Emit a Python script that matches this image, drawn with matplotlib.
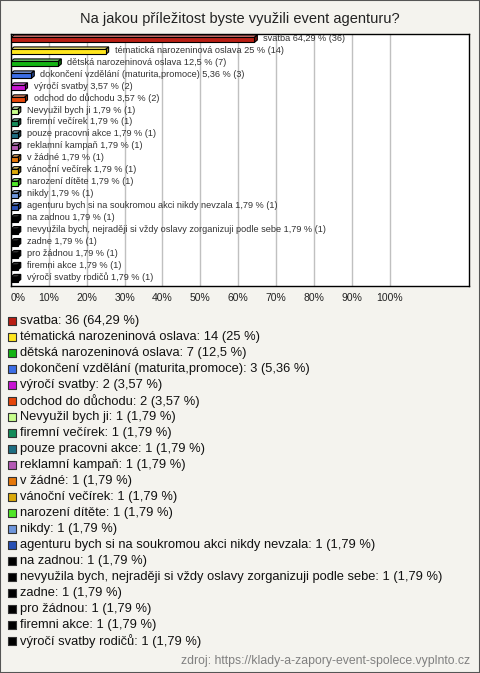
import matplotlib
matplotlib.use("Agg")
import matplotlib.pyplot as plt
from matplotlib.patches import Polygon, Rectangle
import matplotlib.colors as mcolors

plt.rcParams['font.family'] = ['Liberation Sans', 'DejaVu Sans']

title = "Na jakou příležitost byste využili event agenturu?"
categories = [
    "svatba", "tématická narozeninová oslava", "dětská narozeninová oslava",
    "dokončení vzdělání (maturita,promoce)", "výročí svatby", "odchod do důchodu",
    "Nevyužil bych ji", "firemní večírek", "pouze pracovni akce", "reklamní kampaň",
    "v žádné", "vánoční večírek", "narození dítěte", "nikdy",
    "agenturu bych si na soukromou akci nikdy nevzala", "na zadnou",
    "nevyužila bych, nejraději si vždy oslavy zorganizuji podle sebe", "zadne",
    "pro žádnou", "firemni akce", "výročí svatby rodičů",
]
counts = [36, 14, 7, 3, 2, 2, 1, 1, 1, 1, 1, 1, 1, 1, 1, 1, 1, 1, 1, 1, 1]
percents = [64.29, 25, 12.5, 5.36, 3.57, 3.57, 1.79, 1.79, 1.79, 1.79, 1.79,
            1.79, 1.79, 1.79, 1.79, 1.79, 1.79, 1.79, 1.79, 1.79, 1.79]
colors = ["#b91e14", "#ffe61e", "#14b414", "#3c6ee6", "#c814d2", "#e6460a",
          "#c8ff8c", "#148c5a", "#1e6e82", "#b45ab4", "#e6780a", "#dcaa0a",
          "#50e628", "#6e96dc", "#2850b4", "#000000", "#000000", "#000000",
          "#000000", "#000000", "#000000"]
xticks = [0, 10, 20, 30, 40, 50, 60, 70, 80, 90, 100]
xtick_labels = ["0%", "10%", "20%", "30%", "40%", "50%", "60%", "70%", "80%", "90%", "100%"]
source = "zdroj: https://klady-a-zapory-event-spolece.vyplnto.cz"

W, H = 480, 673
BG = "#f4f3ee"

def fmt(v):
    s = ("%.2f" % v).rstrip("0").rstrip(".")
    return s.replace(".", ",")

fig = plt.figure(figsize=(W / 100, H / 100), dpi=100, facecolor=BG)
fig.patches.append(Rectangle((0, 0), 1, 1, transform=fig.transFigure, fill=False,
                             edgecolor="#555555", linewidth=1.5))
fig.text(240 / W, 1 - 19 / H, title, ha="center", va="center", fontsize=10.5, color="#222222")

# main axes
x0, x1, yt, yb = 11, 469, 34, 286
ax = fig.add_axes([x0 / W, 1 - yb / H, (x1 - x0) / W, (yb - yt) / H])
ax.set_facecolor("white")
n = len(categories)
ax.set_xlim(0, 121)
ax.set_ylim(n - 1 + 0.55, -0.5)
px_per_x = (x1 - x0) / 121
px_per_y = (yb - yt) / (n + 0.05)
dx = 3.0 / px_per_x
dy = 2.5 / px_per_y
bh = 5.0 / px_per_y

for xv in xticks:
    ax.axvline(xv, color="#c0c0c0", linewidth=1, zorder=0)

ypos = list(range(n))
ax.barh(ypos, percents, height=bh, color=colors, edgecolor="black", linewidth=0.8, zorder=3)
for i, (p, c) in enumerate(zip(percents, colors)):
    top = i - bh / 2
    bot = i + bh / 2
    rgb = mcolors.to_rgb(c)
    light = tuple(min(1, v * 0.6 + 0.4) for v in rgb) if c != "#000000" else (0.2, 0.2, 0.2)
    dark = tuple(v * 0.6 for v in rgb)
    ax.add_patch(Polygon([(0, top), (dx, top - dy), (p + dx, top - dy), (p, top)],
                         closed=True, facecolor=light, edgecolor="black", linewidth=0.8, zorder=2.9))
    ax.add_patch(Polygon([(p, top), (p + dx, top - dy), (p + dx, bot - dy), (p, bot)],
                         closed=True, facecolor=dark, edgecolor="black", linewidth=0.8, zorder=2.9))
    ax.text(p + dx + 1.6, i - 0.15, "%s %s %% (%d)" % (categories[i], fmt(p), counts[i]),
            ha="left", va="center", fontsize=6.6, color="#333333", zorder=4)

ax.set_xticks(xticks)
ax.set_xticklabels(xtick_labels, fontsize=7.5, color="#222222")
ax.tick_params(axis="x", length=0, pad=5)
ax.get_xticklabels()[0].set_horizontalalignment("left")
ax.set_yticks([])
for s in ax.spines.values():
    s.set_color("black")
    s.set_linewidth(1)

# legend axes
ly0, ly1 = 321, 641
lax = fig.add_axes([0, 1 - 650 / H, 1, (650 - 312) / H])
lax.set_xlim(0, W)
lax.set_ylim(650, 312)
lax.axis("off")
ly = [ly0 + (ly1 - ly0) * i / (n - 1) for i in range(n)]
lax.scatter([12] * n, ly, marker="s", s=36, c=colors, edgecolors="#333333", linewidths=0.8)
for i in range(n):
    lax.text(20, ly[i], "%s: %d (%s %%)" % (categories[i], counts[i], fmt(percents[i])),
             ha="left", va="center", fontsize=9.3, color="#111111")

fig.text(470 / W, 1 - 661 / H, source, ha="right", va="center", fontsize=8.8, color="#808080")

fig.savefig("out.png", dpi=100, facecolor=BG)
